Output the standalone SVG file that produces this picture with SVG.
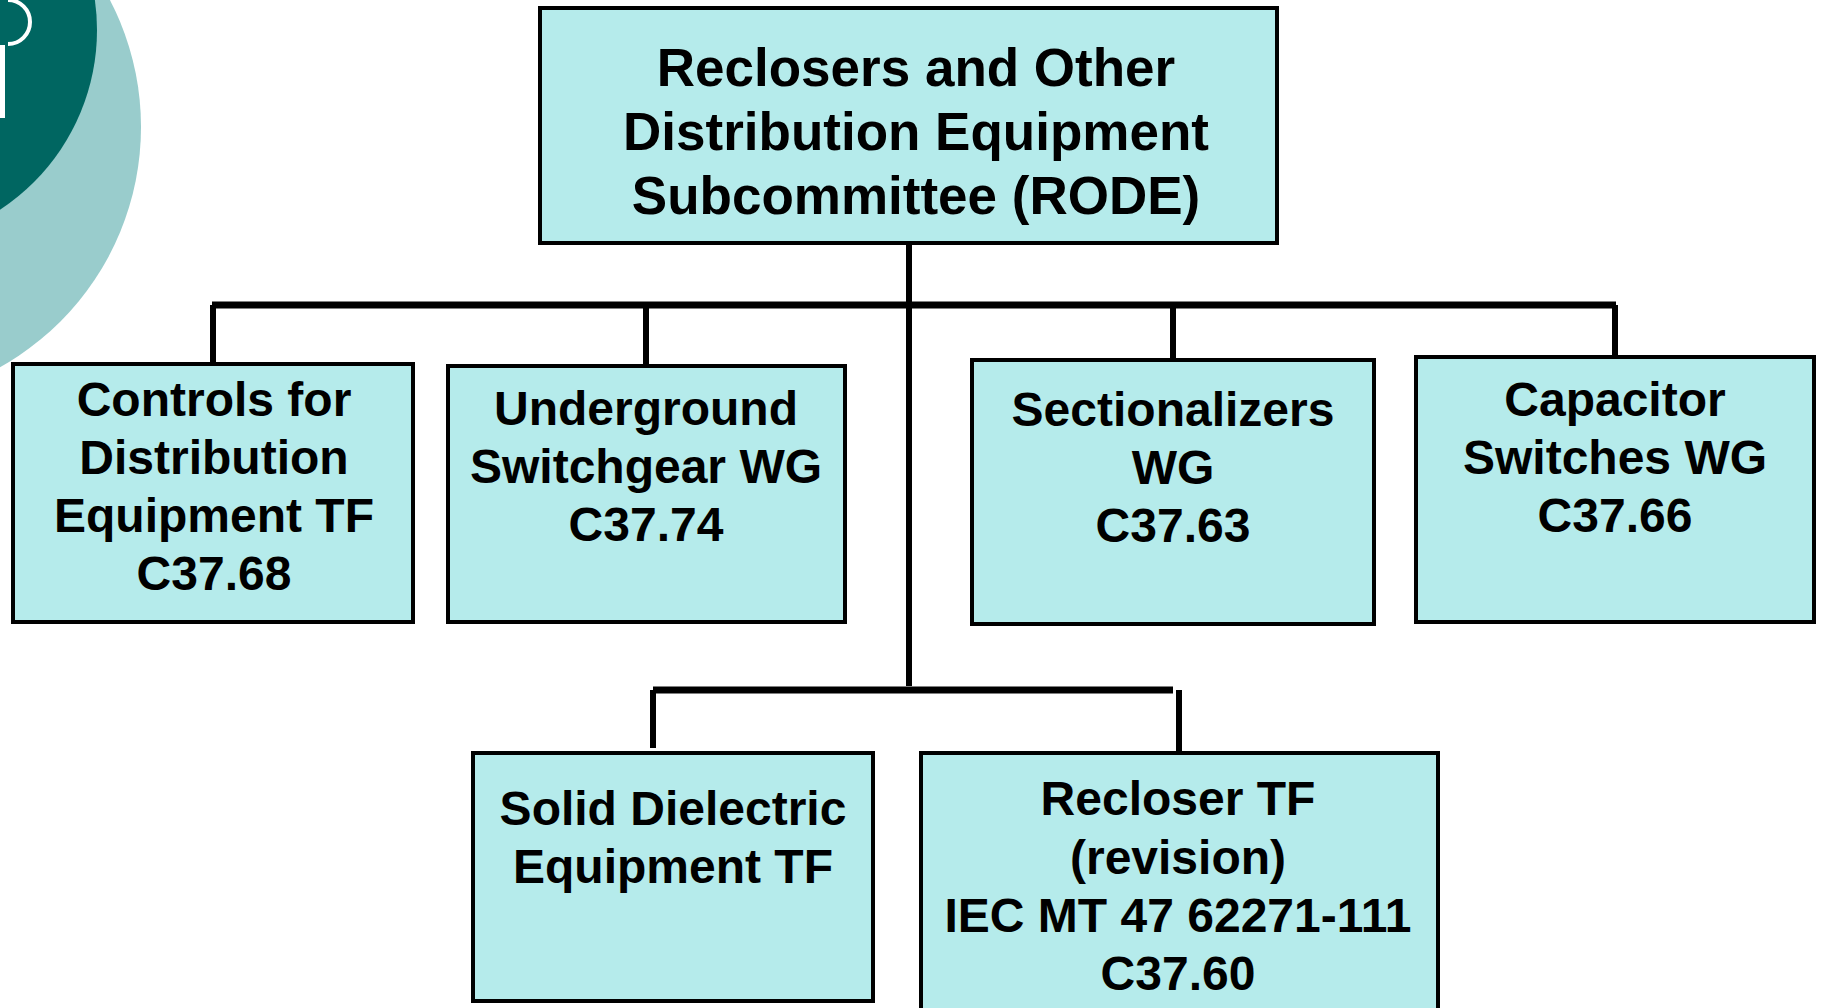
<svg xmlns="http://www.w3.org/2000/svg" width="1821" height="1008" viewBox="0 0 1821 1008">
<style>
.box{fill:#B5EBEB;stroke:#000;stroke-width:4}
.t{font-family:"Liberation Sans",Arial,sans-serif;font-weight:bold;fill:#000;text-anchor:middle}
.tt{font-size:53px}
.bt{font-size:48px}
.c{fill:none;stroke:#000;stroke-width:6}
</style>
<rect width="1821" height="1008" fill="#fff"/>
<g id="decor">
<circle cx="-134" cy="127" r="275" fill="#99CCCC"/>
<circle cx="-118" cy="30" r="215" fill="#006661"/>
<path d="M 8 0 A 22 22 0 0 1 8 44" fill="none" stroke="#fff" stroke-width="4"/>
<rect x="0" y="45" width="5" height="73" fill="#fff"/>
</g>
<g id="connectors">
<path class="c" d="M909 243 V686"/>
<path class="c" d="M212 305 H1616" style="stroke-width:7"/>
<path class="c" d="M213 305 V364 M646 305 V366 M1173 305 V360 M1615 305 V357"/>
<path class="c" d="M653 690 H1173" style="stroke-width:7"/>
<path class="c" d="M653 690 V748 M1179 690 V752"/>
</g>
<g id="rode">
<rect class="box" x="540" y="8" width="737" height="235"/>
<text class="t tt" x="916" y="86">Reclosers and Other</text>
<text class="t tt" x="916" y="150">Distribution Equipment</text>
<text class="t tt" x="916" y="214">Subcommittee (RODE)</text>
</g>
<g id="controls">
<rect class="box" x="13" y="364" width="400" height="258"/>
<text class="t bt" x="214" y="416">Controls for</text>
<text class="t bt" x="214" y="474">Distribution</text>
<text class="t bt" x="214" y="532">Equipment TF</text>
<text class="t bt" x="214" y="590">C37.68</text>
</g>
<g id="underground">
<rect class="box" x="448" y="366" width="397" height="256"/>
<text class="t bt" x="646" y="425">Underground</text>
<text class="t bt" x="646" y="483">Switchgear WG</text>
<text class="t bt" x="646" y="541">C37.74</text>
</g>
<g id="sectionalizers">
<rect class="box" x="972" y="360" width="402" height="264"/>
<text class="t bt" x="1173" y="426">Sectionalizers</text>
<text class="t bt" x="1173" y="484">WG</text>
<text class="t bt" x="1173" y="542">C37.63</text>
</g>
<g id="capacitor">
<rect class="box" x="1416" y="357" width="398" height="265"/>
<text class="t bt" x="1615" y="416">Capacitor</text>
<text class="t bt" x="1615" y="474">Switches WG</text>
<text class="t bt" x="1615" y="532">C37.66</text>
</g>
<g id="solid">
<rect class="box" x="473" y="753" width="400" height="248"/>
<text class="t bt" x="673" y="825">Solid Dielectric</text>
<text class="t bt" x="673" y="883">Equipment TF</text>
</g>
<g id="recloser">
<rect class="box" x="921" y="753" width="517" height="270"/>
<text class="t bt" x="1178" y="815">Recloser TF</text>
<text class="t bt" x="1178" y="874">(revision)</text>
<text class="t bt" x="1178" y="932">IEC MT 47 62271-111</text>
<text class="t bt" x="1178" y="990">C37.60</text>
</g>
</svg>
